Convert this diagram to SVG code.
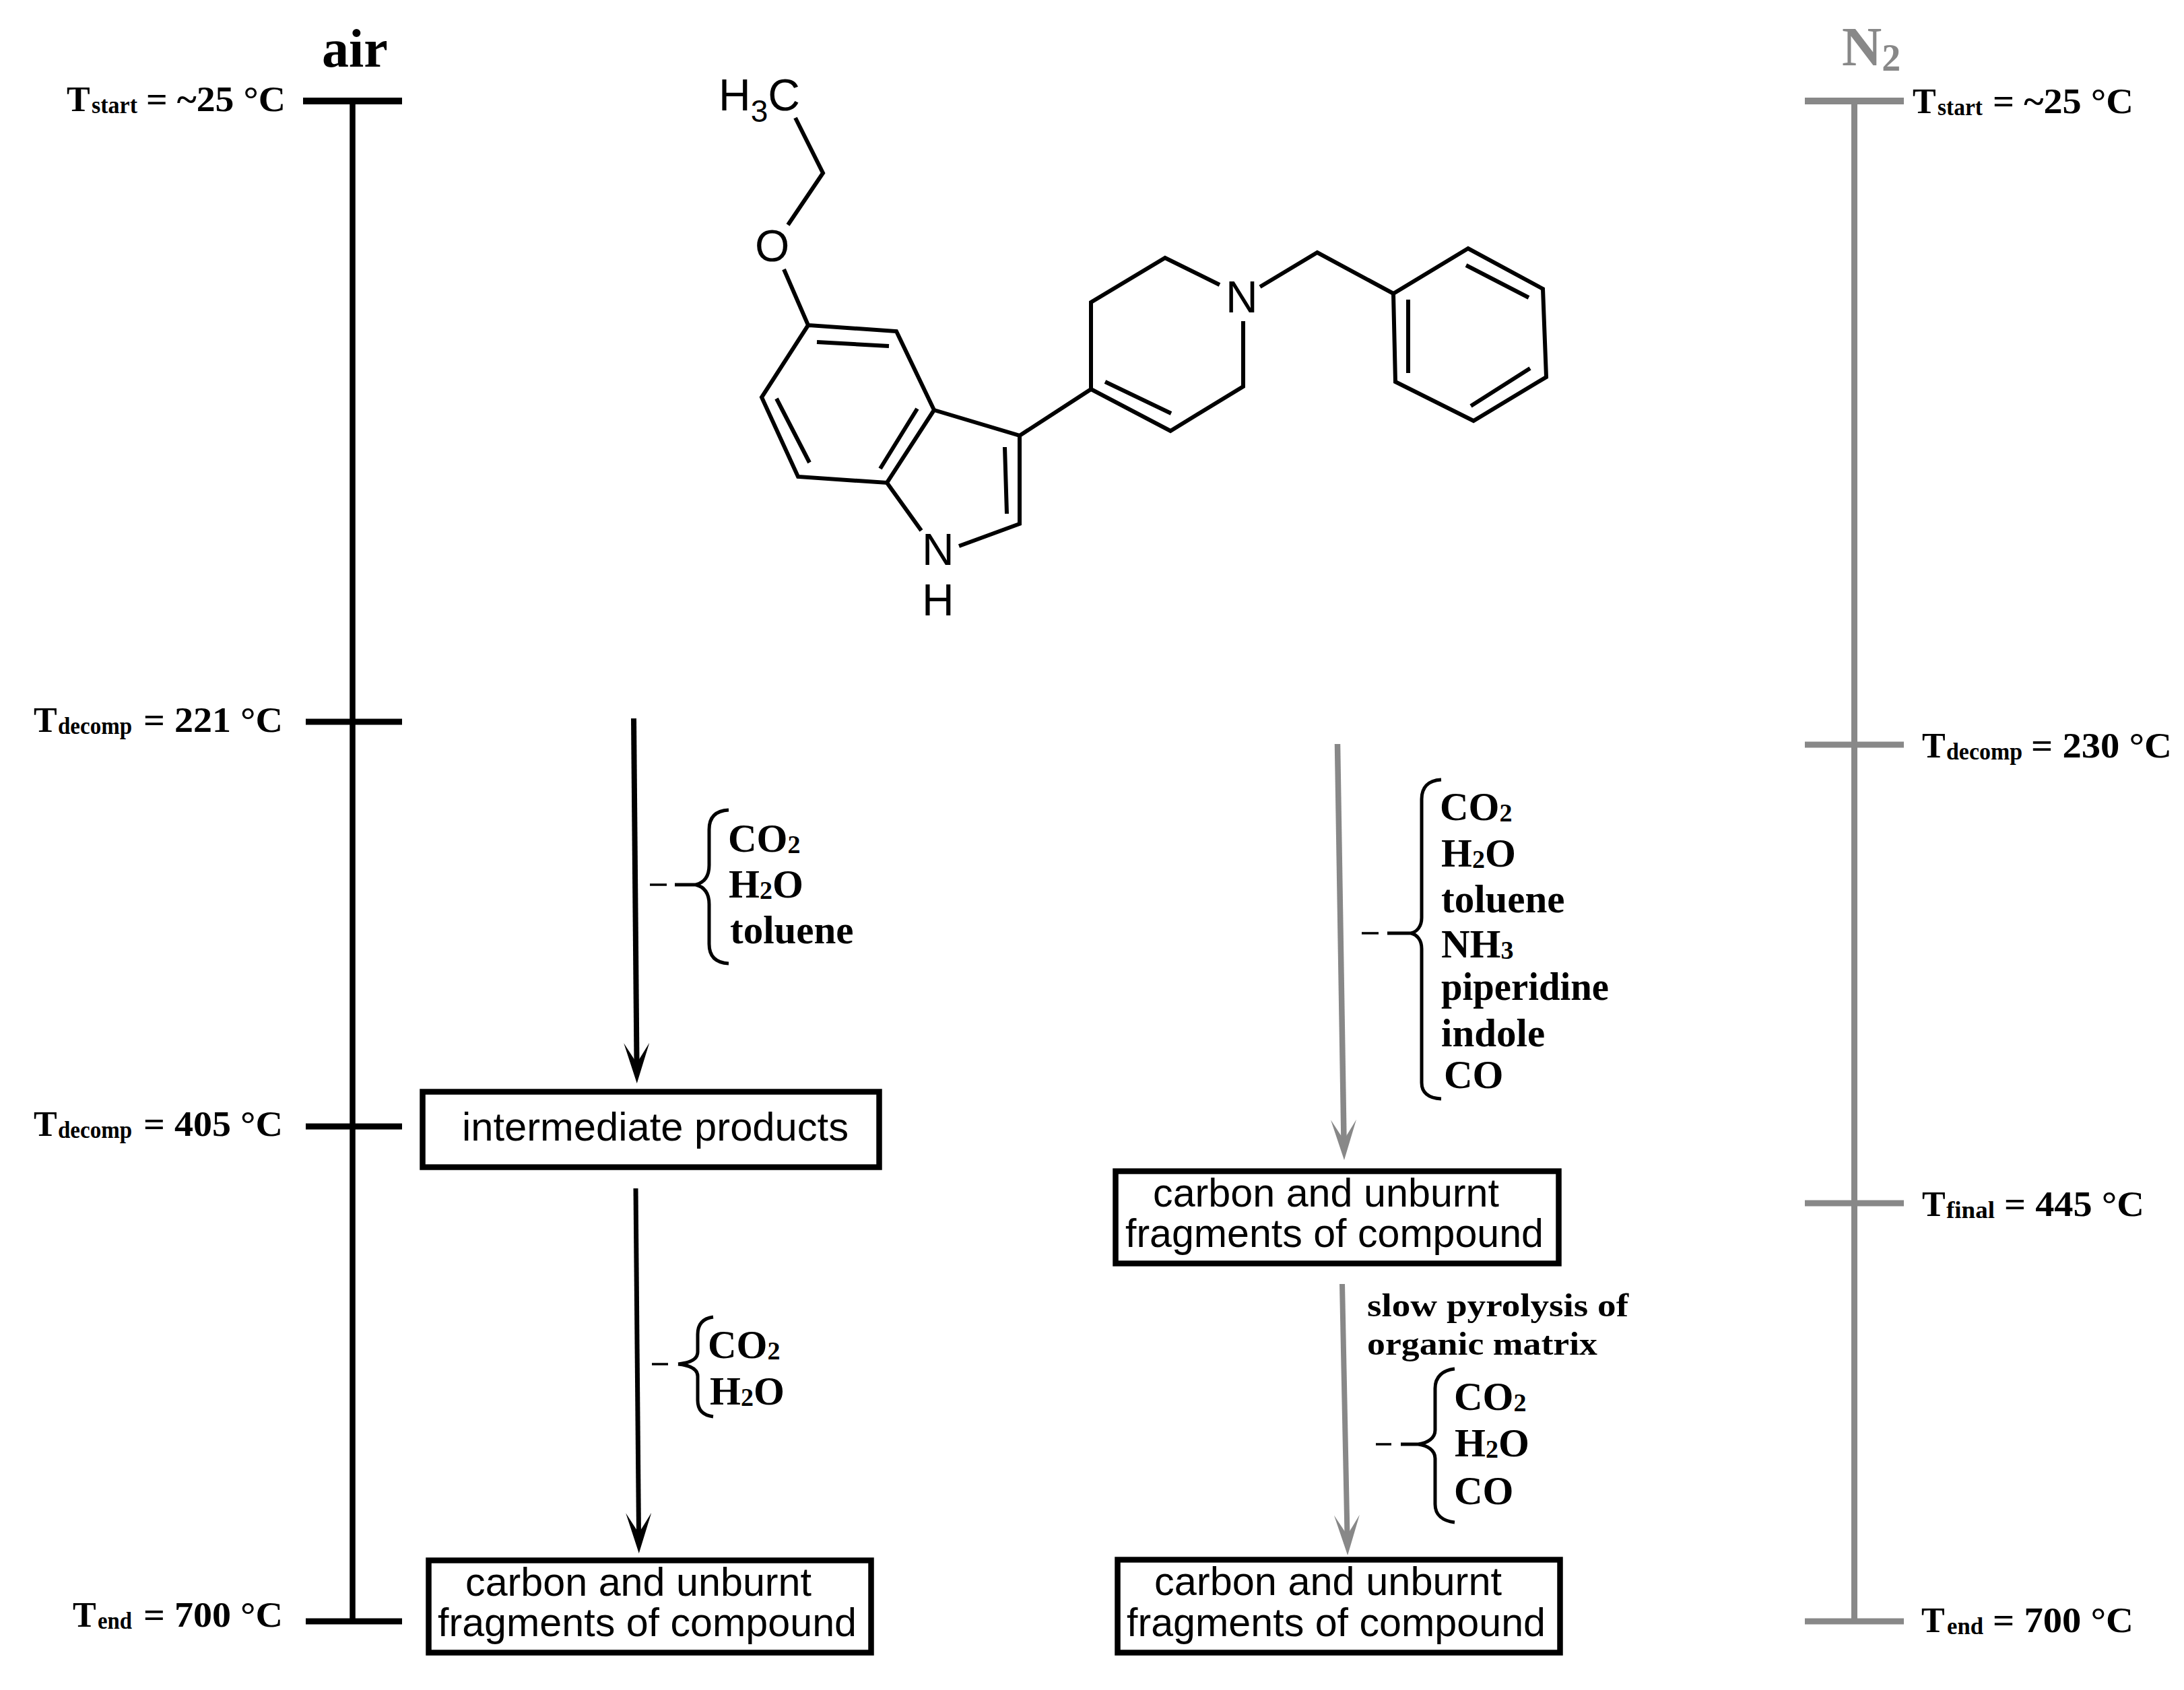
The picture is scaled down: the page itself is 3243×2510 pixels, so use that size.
<svg xmlns="http://www.w3.org/2000/svg" width="3243" height="2510" viewBox="0 0 3243 2510">
<style>
text{font-family:"Liberation Serif","Times New Roman",serif;font-weight:bold;fill:#000}
.t{font-size:52px}
.sub{font-size:35px}
.chem{font-size:59px}
.d{font-size:38px}
.slow{font-size:48px}
.box{font-family:"Liberation Sans",Arial,sans-serif;font-weight:normal;font-size:60px}
.mol{font-family:"Liberation Sans",Arial,sans-serif;font-weight:normal;font-size:66px}
.r{fill:#fff;stroke:#000;stroke-width:8.500}
.k{stroke:#000;fill:none}
.g{stroke:#888;fill:none}
.bond{stroke:#000;stroke-width:6;fill:none;stroke-linejoin:miter;stroke-linecap:butt}
.brace{stroke:#000;stroke-width:5;fill:none}
.dash{stroke:#000;stroke-width:3.500;fill:none}
</style>
<defs>
<marker id="hk" markerUnits="userSpaceOnUse" markerWidth="62" markerHeight="40" refX="30" refY="19" orient="auto"><path d="M0 0L60 19L0 38L30 19Z" fill="#000"/></marker>
<marker id="hg" markerUnits="userSpaceOnUse" markerWidth="62" markerHeight="40" refX="30" refY="19" orient="auto"><path d="M0 0L60 19L0 38L30 19Z" fill="#888"/></marker>
</defs>
<rect width="3243" height="2510" fill="#fff"/>

<g id="scale-air">
<path class="k" stroke-width="8.500" d="M523.500 150V2408"/>
<path class="k" stroke-width="10" d="M450 150H597"/>
<path class="k" stroke-width="9" d="M454 1072H597M454 1673H597M454 2408H597"/>
<text x="478" y="99" font-size="80">air</text>
</g>
<g id="scale-n2">
<path class="g" stroke-width="9" d="M2753.500 150V2408"/>
<path class="g" stroke-width="10" d="M2680 150H2827"/>
<path class="g" stroke-width="9" d="M2680 1106H2827M2680 1787H2827M2680 2408H2827"/>
<text x="2735" y="97" font-size="82" style="fill:#888">N<tspan font-size="56" dy="8">2</tspan></text>
</g>

<g id="temp-labels-air">
<text class="t" y="165"><tspan x="99">T</tspan><tspan class="sub" x="136" dy="3" textLength="68" lengthAdjust="spacingAndGlyphs">start</tspan><tspan x="217" dy="-3" textLength="207" lengthAdjust="spacingAndGlyphs">= ~25 °C</tspan></text>
<text class="t" y="1087"><tspan x="50">T</tspan><tspan class="sub" x="86" dy="3" textLength="110" lengthAdjust="spacingAndGlyphs">decomp</tspan><tspan x="213" dy="-3" textLength="207" lengthAdjust="spacingAndGlyphs">= 221 °C</tspan></text>
<text class="t" y="1687"><tspan x="50">T</tspan><tspan class="sub" x="86" dy="3" textLength="110" lengthAdjust="spacingAndGlyphs">decomp</tspan><tspan x="213" dy="-3" textLength="207" lengthAdjust="spacingAndGlyphs">= 405 °C</tspan></text>
<text class="t" y="2416"><tspan x="108">T</tspan><tspan class="sub" x="145" dy="3" textLength="51" lengthAdjust="spacingAndGlyphs">end</tspan><tspan x="213" dy="-3" textLength="207" lengthAdjust="spacingAndGlyphs">= 700 °C</tspan></text>
</g>
<g id="temp-labels-n2">
<text class="t" y="168"><tspan x="2840">T</tspan><tspan class="sub" x="2877" dy="3" textLength="67" lengthAdjust="spacingAndGlyphs">start</tspan><tspan x="2959" dy="-3" textLength="209" lengthAdjust="spacingAndGlyphs">= ~25 °C</tspan></text>
<text class="t" y="1125"><tspan x="2854">T</tspan><tspan class="sub" x="2890" dy="3" textLength="113" lengthAdjust="spacingAndGlyphs">decomp</tspan><tspan x="3016" dy="-3" textLength="209" lengthAdjust="spacingAndGlyphs">= 230 °C</tspan></text>
<text class="t" y="1806"><tspan x="2854">T</tspan><tspan class="sub" x="2890" dy="3" textLength="72" lengthAdjust="spacingAndGlyphs">final</tspan><tspan x="2976" dy="-3" textLength="208" lengthAdjust="spacingAndGlyphs">= 445 °C</tspan></text>
<text class="t" y="2424"><tspan x="2853">T</tspan><tspan class="sub" x="2891" dy="3" textLength="54" lengthAdjust="spacingAndGlyphs">end</tspan><tspan x="2959" dy="-3" textLength="209" lengthAdjust="spacingAndGlyphs">= 700 °C</tspan></text>
</g>

<g id="molecule">
<path class="bond" d="M1181 175L1222 257L1170 334M1164 400L1200 483L1331 492L1387 609L1317 717L1185 708L1131 590L1200 483"/>
<path class="bond" d="M1213 508L1320 514M1153 592L1202 687M1362 607L1307 696"/>
<path class="bond" d="M1387 609L1514 647L1514 778L1424 811M1317 717L1368 788M1492 664L1495 763"/>
<path class="bond" d="M1514 647L1620 578L1620 449L1730 383L1811 423M1846 477L1846 574L1738 640L1620 578M1641 567L1739 614"/>
<path class="bond" d="M1871 426L1956 375L2069 436L2180 369L2291 429L2296 560L2188 625L2072 567L2069 436"/>
<path class="bond" d="M2177 394L2270 442M2272 547L2184 603M2091 445L2091 554"/>
<text class="mol" x="1067" y="164">H<tspan font-size="46" dy="17">3</tspan><tspan dy="-17">C</tspan></text>
<text class="mol" x="1121" y="388">O</text>
<text class="mol" x="1369" y="839">N</text>
<text class="mol" x="1369" y="914">H</text>
<text class="mol" x="1820" y="464">N</text>
</g>

<g id="connectors">
<path class="k" stroke-width="8" marker-end="url(#hk)" d="M941 1067L945.500 1579"/>
<path class="k" stroke-width="7" marker-end="url(#hk)" d="M944 1765L948.500 2277"/>
<path class="g" stroke-width="8.500" marker-end="url(#hg)" d="M1986 1105L1995.500 1693"/>
<path class="g" stroke-width="8" marker-end="url(#hg)" d="M1993 1907L2000.500 2280"/>
</g>

<g id="loss-air-1">
<path class="dash" d="M965 1314H990"/>
<path class="brace" d="M1082 1203C1062 1204 1053 1214 1053 1232V1285C1053 1302 1045 1311 1033 1314H1002M1033 1314C1045 1317 1053 1326 1053 1343V1402C1053 1420 1062 1430 1082 1431"/>
<text class="chem" x="1081" y="1265">CO<tspan class="d" dy="2">2</tspan></text>
<text class="chem" x="1082" y="1333">H<tspan class="d" dy="2">2</tspan><tspan dy="-2">O</tspan></text>
<text class="chem" x="1084" y="1401">toluene</text>
</g>
<g id="loss-air-2">
<path class="dash" d="M968 2026H992"/>
<path class="brace" d="M1059 1956C1044 1958 1036 1966 1036 1982V2008C1036 2018 1026 2024 1007 2026M1007 2026C1026 2028 1036 2034 1036 2044V2080C1036 2094 1044 2102 1059 2104"/>
<text class="chem" x="1051" y="2017">CO<tspan class="d" dy="2">2</tspan></text>
<text class="chem" x="1054" y="2086">H<tspan class="d" dy="2">2</tspan><tspan dy="-2">O</tspan></text>
</g>
<g id="loss-n2-1">
<path class="dash" d="M2022 1386H2047"/>
<path class="brace" d="M2140 1158C2120 1159 2111 1170 2111 1187V1363C2111 1376 2104 1384 2095 1386H2060M2095 1386C2104 1388 2111 1396 2111 1409V1608C2111 1622 2120 1631 2140 1632"/>
<text class="chem" x="2138" y="1218">CO<tspan class="d" dy="2">2</tspan></text>
<text class="chem" x="2140" y="1287">H<tspan class="d" dy="2">2</tspan><tspan dy="-2">O</tspan></text>
<text class="chem" x="2140" y="1355">toluene</text>
<text class="chem" x="2140" y="1422">NH<tspan class="d" dy="2">3</tspan></text>
<text class="chem" x="2140" y="1485" textLength="249" lengthAdjust="spacingAndGlyphs">piperidine</text>
<text class="chem" x="2140" y="1554">indole</text>
<text class="chem" x="2144" y="1616">CO</text>
</g>
<g id="loss-n2-2">
<text class="slow" x="2030" y="1955" textLength="388" lengthAdjust="spacingAndGlyphs">slow pyrolysis of</text>
<text class="slow" x="2030" y="2012" textLength="342" lengthAdjust="spacingAndGlyphs">organic matrix</text>
<path class="dash" d="M2043 2145H2066"/>
<path class="brace" d="M2160 2033C2142 2035 2131 2045 2131 2062V2124C2131 2136 2120 2143 2106 2145H2080M2106 2145C2120 2147 2131 2154 2131 2166V2234C2131 2250 2142 2259 2160 2261"/>
<text class="chem" x="2159" y="2094">CO<tspan class="d" dy="2">2</tspan></text>
<text class="chem" x="2160" y="2163">H<tspan class="d" dy="2">2</tspan><tspan dy="-2">O</tspan></text>
<text class="chem" x="2159" y="2234">CO</text>
</g>

<g id="box-intermediate">
<rect class="r" x="627.500" y="1621.500" width="678" height="112"/>
<text class="box" x="686" y="1694" textLength="574" lengthAdjust="spacingAndGlyphs">intermediate products</text>
</g>
<g id="box-air-residue">
<rect class="r" x="636.500" y="2317.500" width="657" height="137"/>
<text class="box" x="691" y="2370" textLength="514" lengthAdjust="spacingAndGlyphs">carbon and unburnt</text>
<text class="box" x="650" y="2430" textLength="622" lengthAdjust="spacingAndGlyphs">fragments of compound</text>
</g>
<g id="box-n2-residue-1">
<rect class="r" x="1656.500" y="1739.500" width="658" height="137"/>
<text class="box" x="1712" y="1792" textLength="514" lengthAdjust="spacingAndGlyphs">carbon and unburnt</text>
<text class="box" x="1671" y="1852" textLength="621" lengthAdjust="spacingAndGlyphs">fragments of compound</text>
</g>
<g id="box-n2-residue-2">
<rect class="r" x="1659.500" y="2316.500" width="657" height="138"/>
<text class="box" x="1714" y="2369" textLength="516" lengthAdjust="spacingAndGlyphs">carbon and unburnt</text>
<text class="box" x="1673" y="2430" textLength="622" lengthAdjust="spacingAndGlyphs">fragments of compound</text>
</g>
</svg>
